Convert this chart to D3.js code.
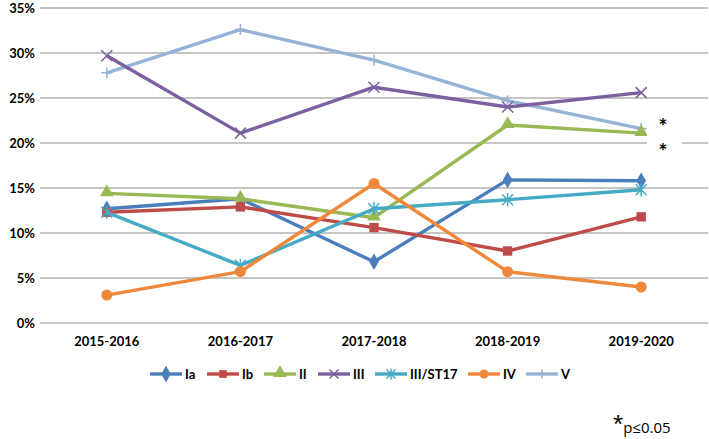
<!DOCTYPE html>
<html><head><meta charset="utf-8">
<script src="https://cdn.jsdelivr.net/npm/d3@7/dist/d3.min.js"></script>
<style>body{margin:0;background:#fff}svg{display:block}text{font-family:Lato,"Open Sans",sans-serif}</style>
</head><body><svg id="c" width="709" height="439"></svg>
<script>
const categories = ["2015-2016","2016-2017","2017-2018","2018-2019","2019-2020"];
const seriesNames = ["Ia","Ib","II","III","III/ST17","IV","V"];
const Ia      = [12.7, 13.8, 6.8, 15.9, 15.8];
const Ib      = [12.3, 12.9, 10.6, 8.0, 11.8];
const II      = [14.4, 13.8, 11.7, 22.0, 21.1];
const III     = [29.7, 21.1, 26.2, 24.0, 25.6];
const III_ST17= [12.3, 6.4, 12.7, 13.7, 14.8];
const IV      = [3.1, 5.7, 15.5, 5.7, 4.0];
const V       = [27.8, 32.6, 29.2, 24.7, 21.6];
const yTicks  = [0,5,10,15,20,25,30,35];
const colors  = ["#4A7EBB","#BE4B48","#98B954","#7D60A0","#46AAC5","#F0883C","#95B3D7"];
const markers = ["diamond","square","triangle","x","asterisk","circle","plus"];
const values  = [Ia,Ib,II,III,III_ST17,IV,V];
const drawOrder = [6,0,1,2,3,4,5];

const svg = d3.select("#c");
const x = d3.scaleBand().domain(categories).range([40,708]);
const y = d3.scaleLinear().domain([0,35]).range([323,8]);

const grid = svg.append("g");
grid.selectAll("line").data(yTicks).join("line")
  .attr("x1",40).attr("x2",708).attr("y1",d=>y(d)).attr("y2",d=>y(d))
  .attr("stroke","#8c8c8c").attr("stroke-width",1.2);

svg.append("g").selectAll("text").data(yTicks).join("text")
  .attr("x",35).attr("y",d=>y(d)).attr("dy","0.35em").attr("text-anchor","end")
  .attr("font-size",13).attr("font-weight","bold").attr("fill","#000")
  .text(d=>d+"%");
svg.append("g").selectAll("text").data(categories).join("text")
  .attr("x",d=>x(d)+x.bandwidth()/2).attr("y",346).attr("text-anchor","middle")
  .attr("font-size",13).attr("font-weight","bold").attr("fill","#000")
  .text(d=>d);

function marker(g, type, color, s){
  if(type==="diamond") g.append("path").attr("d",d3.symbol(d3.symbolDiamond,80)()).attr("fill",color);
  else if(type==="square") g.append("rect").attr("x",-s*0.85).attr("y",-s*0.85).attr("width",s*1.7).attr("height",s*1.7).attr("fill",color);
  else if(type==="triangle") g.append("path").attr("d",d3.symbol(d3.symbolTriangle,80)()).attr("fill",color).attr("transform","translate(0,-1)");
  else if(type==="circle") g.append("circle").attr("r",s).attr("fill",color);
  else if(type==="x") g.append("path").attr("d",`M${-s},${-s}L${s},${s}M${-s},${s}L${s},${-s}`).attr("stroke",color).attr("stroke-width",1.5);
  else if(type==="plus") g.append("path").attr("d",`M${-s},0L${s},0M0,${-s}L0,${s}`).attr("stroke",color).attr("stroke-width",1.5);
  else if(type==="asterisk") g.append("path").attr("d",`M${-s},${-s}L${s},${s}M${-s},${s}L${s},${-s}M0,${-s*1.2}L0,${s*1.2}`).attr("stroke",color).attr("stroke-width",1.5);
}

const line = d3.line().x((d,i)=>x(categories[i])+x.bandwidth()/2).y(d=>y(d));
drawOrder.forEach(k=>{
  const g = svg.append("g");
  g.append("path").datum(values[k]).attr("d",line).attr("fill","none")
    .attr("stroke",colors[k]).attr("stroke-width",3.4).attr("stroke-linejoin","round");
  values[k].forEach((v,i)=>{
    const m = g.append("g").attr("transform",`translate(${x(categories[i])+x.bandwidth()/2},${y(v)})`);
    marker(m, markers[k], colors[k], 5.5);
  });
});

const ast = svg.append("g");
ast.append("rect").attr("x",647).attr("y",112).attr("width",35).attr("height",44).attr("fill","#fff");
ast.append("text").attr("x",663).attr("y",134).attr("text-anchor","middle").attr("font-size",21).attr("font-weight","bold").attr("font-family","'Liberation Sans'").text("*");
ast.append("text").attr("x",663).attr("y",159).attr("text-anchor","middle").attr("font-size",21).attr("font-weight","bold").attr("font-family","'Liberation Sans'").text("*");

const legX = [150,207,264,318,375,468,526];
const leg = svg.append("g");
seriesNames.forEach((n,k)=>{
  const g = leg.append("g").attr("transform",`translate(${legX[k]},374)`);
  g.append("line").attr("x1",0).attr("x2",32).attr("y1",0).attr("y2",0).attr("stroke",colors[k]).attr("stroke-width",3.4);
  const m = g.append("g").attr("transform","translate(16,0)");
  marker(m, markers[k], colors[k], 4.5);
  g.append("text").attr("x",35).attr("y",0).attr("dy","0.35em").attr("font-size",13).attr("font-weight","bold").text(n);
});

const fn = svg.append("text").attr("x",613).attr("y",433);
fn.append("tspan").attr("font-size",26).attr("font-family","'Liberation Sans'").text("*");
fn.append("tspan").attr("font-size",15).attr("font-family","'Open Sans'").text("p≤0.05");
</script></body></html>
